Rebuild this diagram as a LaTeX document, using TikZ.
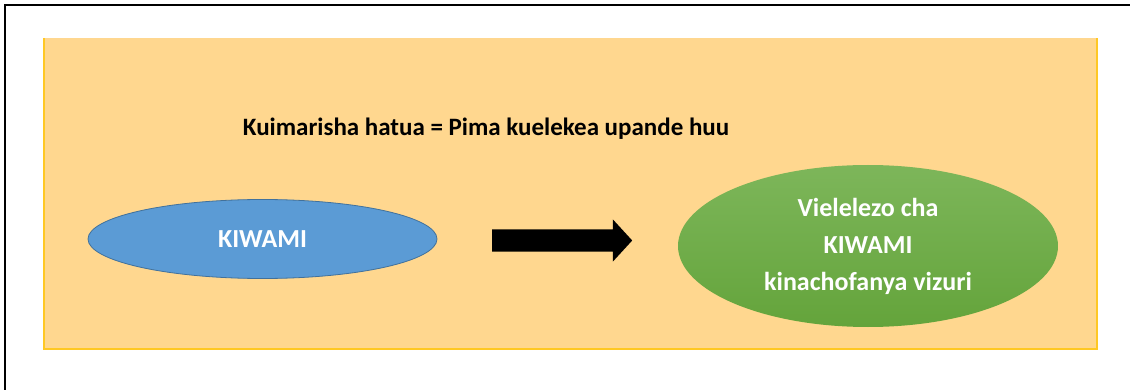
\documentclass[tikz,border=0pt]{standalone}
\usepackage{fontspec}
\setmainfont{Carlito}
\usetikzlibrary{shapes.geometric,shapes.arrows}
\definecolor{panelfill}{HTML}{FFD78F}
\definecolor{panelline}{HTML}{FFC824}
\definecolor{bluefill}{HTML}{5B9BD5}
\definecolor{blueline}{HTML}{41719C}
\definecolor{greentop}{HTML}{7DB65A}
\definecolor{greenbot}{HTML}{64A43B}
\tikzset{
  oval/.style={ellipse, inner sep=0pt, font=\bfseries\fontsize{26}{37}\selectfont, text=white, align=center},
  title/.style={font=\bfseries\fontsize{25}{30}\selectfont, text=black},
}
\begin{document}
\begin{tikzpicture}[x=1pt,y=-1pt]
\useasboundingbox[fill=white] (0,0) rectangle (1130,390);
\draw[line width=2.5pt] (5,390) -- (5,5) -- (1130,5);
\fill[panelfill] (44,38) rectangle (1097,349);
\draw[panelline, line width=1.2pt] (44,38) -- (44,349) -- (1097,349) -- (1097,38);
\node[title] (t) at (486,129) {Kuimarisha hatua = Pima kuelekea upande huu};
\node[oval, draw=blueline, fill=bluefill, line width=0.8pt, minimum width=349pt, minimum height=79pt] (a) at (262.5,239) {KIWAMI};
\node[oval, top color=greentop, bottom color=greenbot, minimum width=380pt, minimum height=162pt] (b) at (868,246) {Vielelezo cha\\KIWAMI\\kinachofanya vizuri};
\node[single arrow, fill=black, anchor=tail, inner xsep=0pt, inner ysep=11pt, minimum height=140pt, single arrow head extend=10pt, single arrow tip angle=95] (arr) at (492,240.5) {};
\end{tikzpicture}
\end{document}
